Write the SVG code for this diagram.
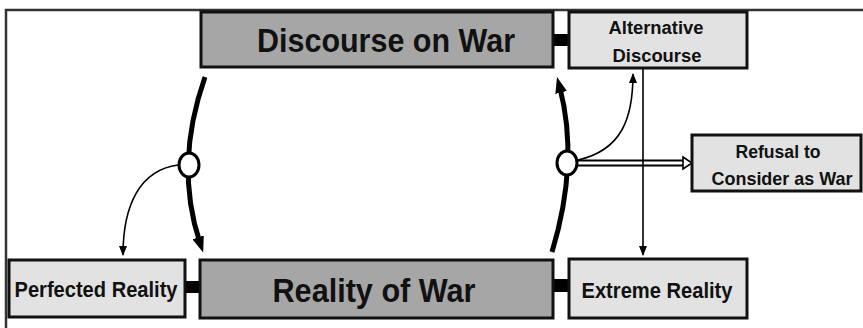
<svg xmlns="http://www.w3.org/2000/svg" width="863" height="328" viewBox="0 0 863 328">
<style>
.dark{fill:#a6a6a6;stroke:#111;stroke-width:3}
.light{fill:#e2e2e2;stroke:#111;stroke-width:3}
.t{font-family:"Liberation Sans",Arial,sans-serif;font-weight:bold;fill:#111;text-anchor:middle}
.thick{fill:none;stroke:#000;stroke-width:5}
.thin{fill:none;stroke:#000;stroke-width:1.6}
.bar{fill:#000}
</style>
<defs>
<marker id="big" markerUnits="userSpaceOnUse" viewBox="0 0 16 12" markerWidth="16" markerHeight="12" refX="6" refY="6" orient="auto">
<path d="M0,0 L16,6 L0,12 z" fill="#000"/>
</marker>
<marker id="small" markerUnits="userSpaceOnUse" viewBox="0 0 10 8" markerWidth="10" markerHeight="8" refX="9" refY="4" orient="auto">
<path d="M0,0 L10,4 L0,8 z" fill="#000"/>
</marker>
</defs>
<rect width="863" height="328" fill="#fff"/>
<g id="frame" fill="none" stroke="#333" stroke-width="2.5">
<path d="M6,328 L6,10 L863,10"/>
</g>
<g id="connectors">
<rect class="bar" x="552" y="34" width="18" height="12"/>
<rect class="bar" x="184" y="281" width="18" height="12"/>
<rect class="bar" x="552" y="279" width="18" height="13"/>
<path class="thick" d="M205,77 Q174,165 200,243" marker-end="url(#big)"/>
<path class="thick" d="M552,252 Q579.5,161.5 559.6,86.7" marker-end="url(#big)"/>
<path class="thin" d="M178,165 C140,170 123,205 123,255" marker-end="url(#small)"/>
<path class="thin" d="M578,160 C622,150 633,118 633,74" marker-end="url(#small)"/>
<path d="M578,163 L684,163" stroke="#000" stroke-width="7" fill="none"/>
<path d="M578,163 L685,163" stroke="#fff" stroke-width="3" fill="none"/>
<path d="M683,157 L692,163 L683,169 z" fill="#fff" stroke="#000" stroke-width="1.6"/>
<path class="thin" d="M643,68 L643,255" marker-end="url(#small)"/>
<ellipse cx="189" cy="165" rx="10" ry="12" fill="#fff" stroke="#000" stroke-width="3"/>
<ellipse cx="567" cy="163" rx="10" ry="12" fill="#fff" stroke="#000" stroke-width="3"/>
</g>
<g id="discourse">
<rect class="dark" x="201" y="12" width="352" height="55"/>
<text class="t" x="386" y="52" font-size="34" textLength="258" lengthAdjust="spacingAndGlyphs">Discourse on War</text>
</g>
<g id="alternative">
<rect class="light" x="569" y="12" width="178" height="56"/>
<text class="t" x="656" y="34" font-size="18" textLength="95" lengthAdjust="spacingAndGlyphs">Alternative</text>
<text class="t" x="657" y="62" font-size="19" textLength="89" lengthAdjust="spacingAndGlyphs">Discourse</text>
</g>
<g id="refusal">
<rect class="light" x="692" y="135" width="169" height="56"/>
<text class="t" x="778" y="158" font-size="18" textLength="85" lengthAdjust="spacingAndGlyphs">Refusal to</text>
<text class="t" x="782" y="185" font-size="19" textLength="141" lengthAdjust="spacingAndGlyphs">Consider as War</text>
</g>
<g id="reality">
<rect class="dark" x="200" y="260" width="353" height="58"/>
<text class="t" x="374" y="302" font-size="33" textLength="203" lengthAdjust="spacingAndGlyphs">Reality of War</text>
</g>
<g id="perfected">
<rect class="light" x="9" y="260" width="176" height="57"/>
<text class="t" x="96" y="297" font-size="22" textLength="163" lengthAdjust="spacingAndGlyphs">Perfected Reality</text>
</g>
<g id="extreme">
<rect class="light" x="569" y="259" width="178" height="59"/>
<text class="t" x="657" y="298" font-size="22" textLength="151" lengthAdjust="spacingAndGlyphs">Extreme Reality</text>
</g>
</svg>
